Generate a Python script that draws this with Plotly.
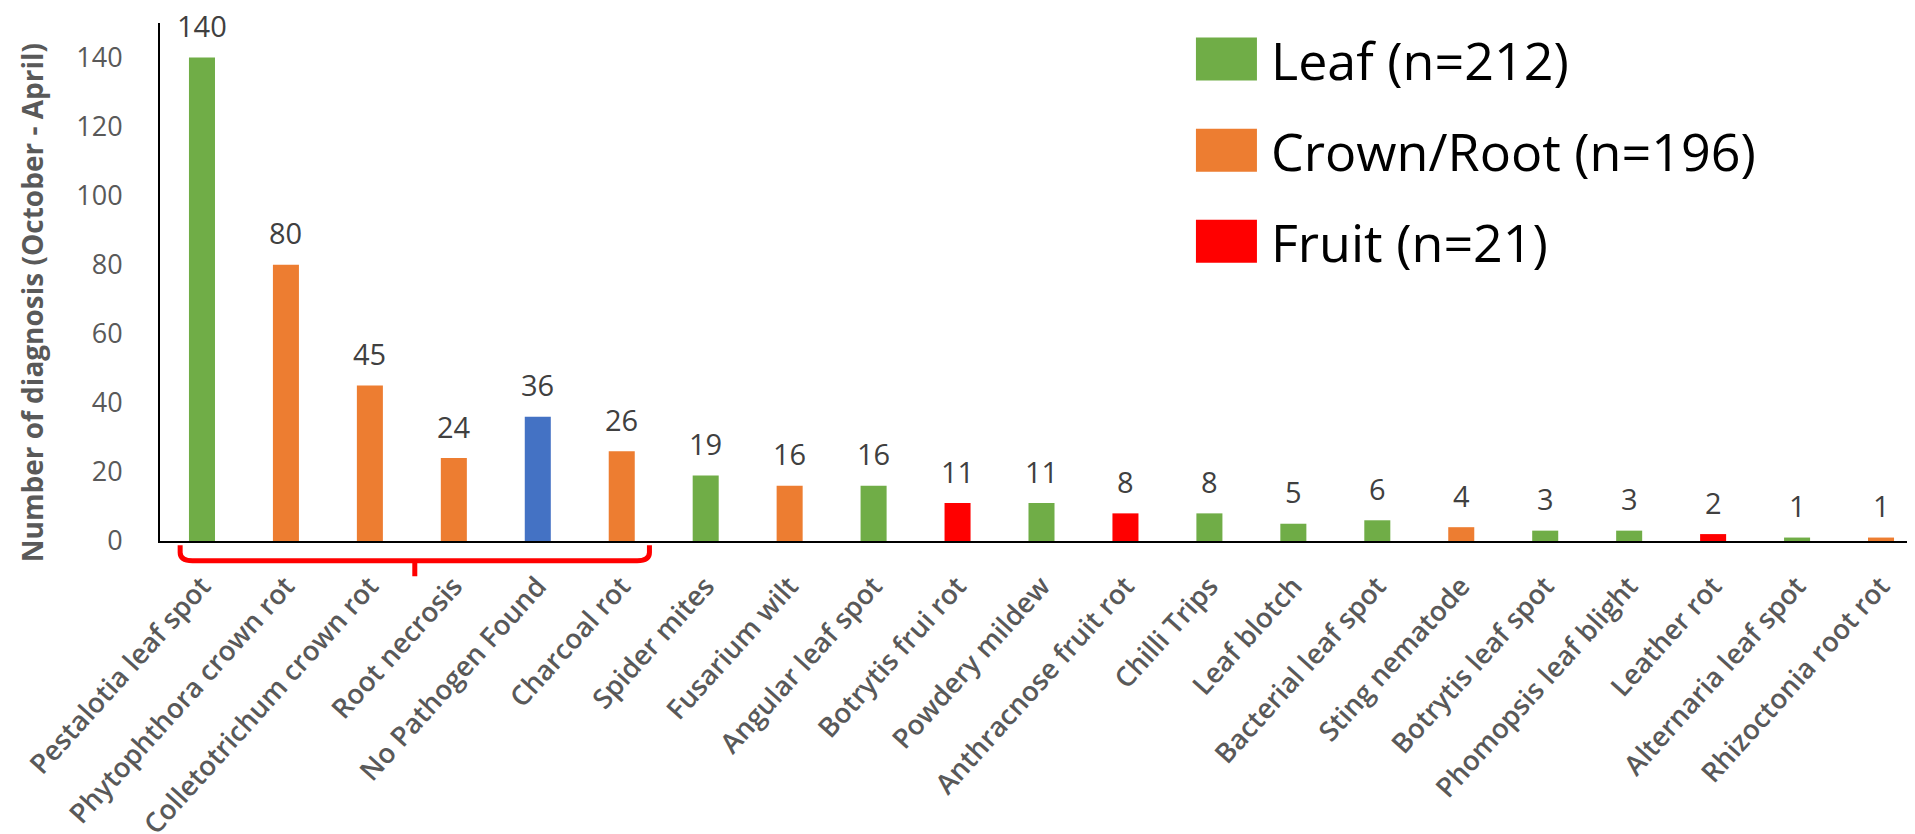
import plotly.graph_objects as go

# data
categories = [
    "Pestalotia leaf spot", "Phytophthora crown rot", "Colletotrichum crown rot",
    "Root necrosis", "No Pathogen Found", "Charcoal rot", "Spider mites",
    "Fusarium wilt", "Angular leaf spot", "Botrytis frui rot", "Powdery mildew",
    "Anthracnose fruit rot", "Chilli Trips", "Leaf blotch", "Bacterial leaf spot",
    "Sting nematode", "Botrytis leaf spot", "Phomopsis leaf blight", "Leather rot",
    "Alternaria leaf spot", "Rhizoctonia root rot",
]
counts = [140, 80, 45, 24, 36, 26, 19, 16, 16, 11, 11, 8, 8, 5, 6, 4, 3, 3, 2, 1, 1]
groups = [
    "Leaf", "Crown/Root", "Crown/Root", "Crown/Root", "None", "Crown/Root", "Leaf",
    "Crown/Root", "Leaf", "Fruit", "Leaf", "Fruit", "Leaf", "Leaf", "Leaf",
    "Crown/Root", "Leaf", "Leaf", "Fruit", "Leaf", "Crown/Root",
]
legend_names = ["Leaf (n=212)", "Crown/Root (n=196)", "Fruit (n=21)"]
legend_groups = ["Leaf", "Crown/Root", "Fruit"]
y_ticks = [0, 20, 40, 60, 80, 100, 120, 140]

colors = {
    "Leaf": "#70AD47",
    "Crown/Root": "#ED7D31",
    "Fruit": "#FF0000",
    "None": "#4472C4",
}

FONT = "Open Sans"

fig = go.Figure()
fig.add_trace(go.Bar(
    x=categories,
    y=counts,
    width=0.31,
    marker=dict(color=[colors[g] for g in groups], line=dict(width=0)),
    showlegend=False,
    cliponaxis=False,
))

# value labels above each bar
for cat, val in zip(categories, counts):
    fig.add_annotation(
        x=cat, y=val, text=str(val), showarrow=False,
        yshift=32, yanchor="middle",
        font=dict(family=FONT, size=29, color="#404040"),
    )

# hand-drawn legend (big squares like the original)
for i, (name, g) in enumerate(zip(legend_names, legend_groups)):
    top = 0.972 - i * 0.176
    fig.add_shape(
        type="rect", xref="paper", yref="paper",
        x0=0.5876, x1=0.6222, y0=top - 0.083, y1=top,
        fillcolor=colors[g], line=dict(width=0),
    )
    fig.add_annotation(
        xref="paper", yref="paper", x=0.629, y=top - 0.0415,
        xanchor="left", yanchor="middle", showarrow=False, text=name,
        font=dict(family=FONT, size=52, color="#000000"),
    )

# red bracket under the first six categories
n = len(categories)
def to_paper(i):
    return (i + 0.5) / n

xl = to_paper(-0.26)
xr = to_paper(5.33)
xc = (xl + xr) / 2
yt, yh, yb = -0.008, -0.038, -0.068
r = 0.007
path = (
    f"M {xl},{yt} L {xl},{yh + 0.016} Q {xl},{yh} {xl + r},{yh} "
    f"L {xr - r},{yh} Q {xr},{yh} {xr},{yh + 0.016} L {xr},{yt} "
    f"M {xc},{yh} L {xc},{yb}"
)
fig.add_shape(type="path", xref="paper", yref="paper", path=path,
              line=dict(color="#FF0000", width=5))

# y title as annotation so it can sit a bit lower, like the original
fig.add_annotation(
    xref="paper", yref="paper", x=0, y=0.459, xshift=-128,
    xanchor="center", yanchor="middle", textangle=-90, showarrow=False,
    text="Number of diagnosis (October - April)",
    font=dict(family=FONT, size=28, color="#595959", weight="bold"),
)

fig.update_layout(
    width=1915, height=834,
    margin=dict(l=152, r=0, t=15, b=301),
    plot_bgcolor="white",
    paper_bgcolor="white",
    bargap=0.69,
    font=dict(family=FONT),
)
fig.update_xaxes(
    range=[-0.5, n - 0.5],
    automargin=False,
    showline=True, linecolor="black", linewidth=2,
    ticks="", showgrid=False,
    tickangle=-48,
    ticklabelstandoff=16,
    tickfont=dict(family=FONT, size=27.5, color="#595959", weight=600),
)
fig.update_yaxes(
    range=[0, 150],
    automargin=False,
    tickvals=y_ticks,
    showline=True, linecolor="black", linewidth=2,
    ticks="", showgrid=False, zeroline=False,
    ticklabelstandoff=30,
    tickfont=dict(family=FONT, size=27, color="#595959"),
)

fig.write_html("out.html")
